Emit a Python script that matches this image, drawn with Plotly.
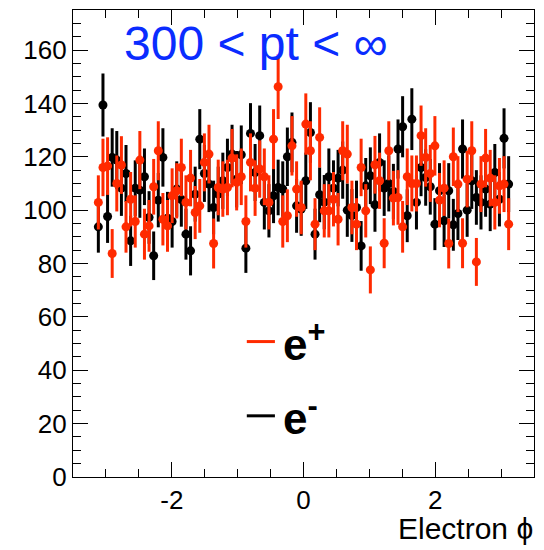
import numpy as np
import plotly.graph_objects as go

# Histogram binning: 100 bins on [-3.5, 3.5]; filled bins 5..94
bin_lo, bin_hi, n_bins = -3.5, 3.5, 100
first_bin = 5

x_tickvals = [-2, 0, 2]
x_ticktext = ["-2", "0", "2"]

e_plus = [102.9, 116, 116.5, 83.75, 110, 116.9, 93.75, 104.1, 95.75, 118.75,
          91, 94.1, 108.75, 122.25, 96.6, 94.1, 105.4, 107.25, 116, 102.9,
          112, 99.1, 101.6, 117.9, 121, 87.5, 108.5, 107.9, 108.5, 119.5,
          110.4, 112.5, 95.75, 117.9, 108.25, 115.4, 112.5, 102.9, 126.6, 146.25,
          95.75, 97.9, 124.1, 107.9, 101, 132.25, 122.25, 94.75, 127.25, 99.75,
          99.75, 104.1, 96.6, 122.25, 121, 101, 94.75, 116, 99.75, 77.6,
          117, 111, 87.6, 122.25, 104.5, 104.75, 93.75, 112.5, 110, 110,
          127.9, 119.75, 113.75, 124.1, 103.75, 108.25, 87.5, 120, 109.75, 87.6,
          111.6, 122.25, 80.6, 109.75, 119.5, 112, 102.9, 109.1, 109.75, 94.75]

e_minus = [93.75, 139.4, 97.6, 119.75, 118.75, 108.25, 113.75, 88.5, 108.25, 107.5,
           112.5, 97.25, 82.9, 103.75, 119.75, 97, 95.75, 107.9, 104, 91,
           84.75, 106, 126.6, 113.75, 109.75, 101, 106, 111, 116, 121,
           111.6, 120.75, 85.75, 128.75, 114.1, 127.9, 102.9, 99.75, 105.4, 108.5,
           107.9, 120, 125.4, 101.6, 100.4, 111, 129.1, 91, 105.75, 103,
           112.5, 108.25, 112, 115, 100, 98, 101, 86.6, 109.1, 112.9,
           102, 117.9, 108.25, 110, 107, 122.9, 131.25, 97.9, 134.1, 102.9,
           116, 112.25, 108.75, 94.75, 107.25, 96, 107.25, 94.5, 98.75, 122.9,
           100, 111, 104.75, 102.9, 107.9, 102.25, 114.1, 104.1, 126.9, 109.75]

width = (bin_hi - bin_lo) / n_bins
x = [bin_lo + (first_bin + i + 0.5) * width for i in range(len(e_plus))]

red = "#ff2a00"
fig = go.Figure()
for vals, col, name in [(e_minus, "black", "e-"), (e_plus, red, "e+")]:
    fig.add_trace(go.Scatter(
        x=x, y=vals, mode="markers", name=name, showlegend=False,
        marker=dict(color=col, size=9),
        error_y=dict(type="data", array=list(np.sqrt(vals)), color=col, thickness=3, width=0),
    ))

font = "Liberation Sans, Arial, sans-serif"
axis_common = dict(showline=True, linecolor="black", linewidth=1.3, mirror="ticks",
                   ticks="inside", ticklen=15, tickcolor="black", showgrid=False,
                   zeroline=False, tickfont=dict(family=font, size=26, color="black"))
fig.update_layout(
    width=544, height=550, margin=dict(l=73, r=10, t=10, b=73),
    paper_bgcolor="white", plot_bgcolor="white",
    xaxis=dict(range=[bin_lo, bin_hi], tickmode="array", tickvals=x_tickvals, ticktext=x_ticktext,
               minor=dict(dtick=0.5, tick0=0, ticks="inside", ticklen=8, tickcolor="black"),
               **axis_common),
    yaxis=dict(range=[0, 175], tick0=0, dtick=20,
               minor=dict(dtick=5, ticks="inside", ticklen=8, tickcolor="black"),
               **axis_common),
)
fig.add_annotation(text="Electron ϕ", xref="paper", yref="paper", x=1.003, y=0,
                   xanchor="right", yanchor="top", yshift=-33, showarrow=False,
                   font=dict(family=font, size=30, color="black"))
fig.add_annotation(text="300 < pt < ∞", xref="paper", yref="paper", x=0.106, y=0.929,
                   xanchor="left", yanchor="middle", showarrow=False,
                   font=dict(family=font, size=48, color="#0a2cff"))
for yy, col, lab in [(0.290, red, "<b>e<sup>+</sup></b>"), (0.131, "black", "<b>e<sup>-</sup></b>")]:
    fig.add_shape(type="line", xref="paper", yref="paper", x0=0.377, x1=0.438, y0=yy, y1=yy,
                  line=dict(color=col, width=3))
    fig.add_annotation(text=lab, xref="paper", yref="paper", x=0.452, y=yy,
                       xanchor="left", yanchor="middle", showarrow=False,
                       font=dict(family=font, size=44, color="black"))
fig.write_html("out.html")
